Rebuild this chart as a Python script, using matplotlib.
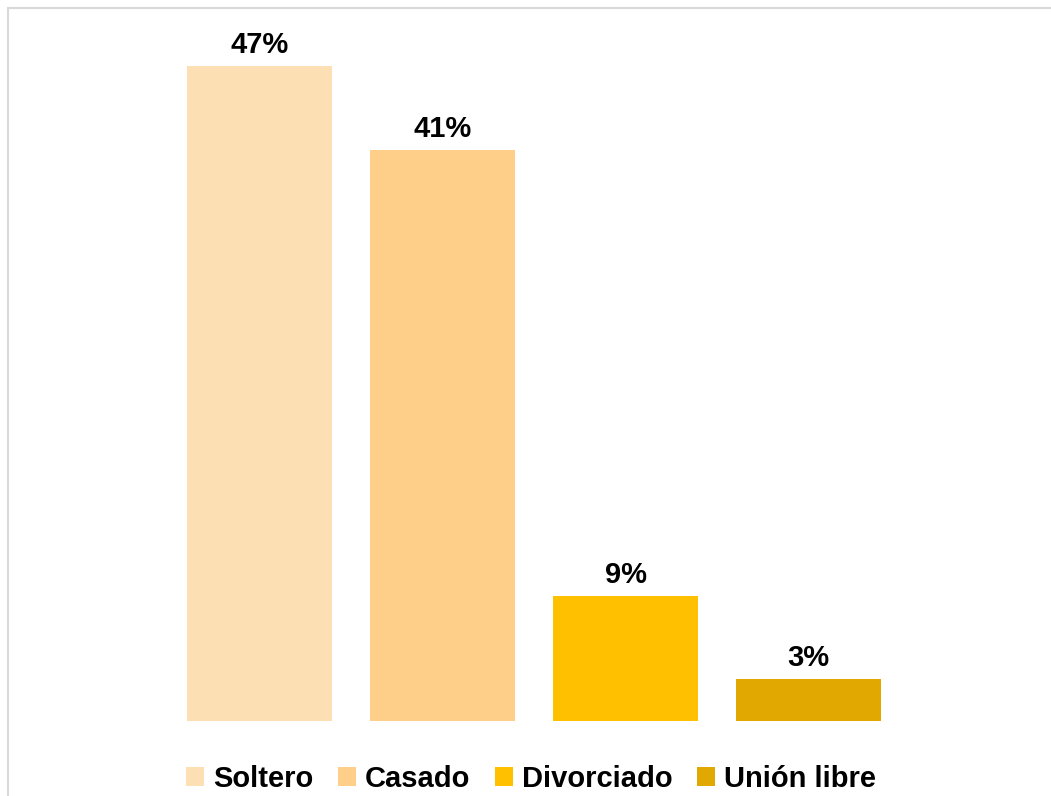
import matplotlib
matplotlib.use("Agg")
import matplotlib.pyplot as plt
from matplotlib.patches import Rectangle, Patch

categories = ["Soltero", "Casado", "Divorciado", "Unión libre"]
values = [47, 41, 9, 3]
labels = ["47%", "41%", "9%", "3%"]
colors = ["#FDDFB4", "#FECF88", "#FFC000", "#E0A800"]

plt.rcParams['font.family'] = ['Liberation Sans', 'DejaVu Sans']

W, H = 1051, 796
fig = plt.figure(figsize=(W / 100, H / 100), dpi=100)

# Outer border (top and left visible)
fig.patches.append(Rectangle((8 / W, -0.1), 1.2, (H - 8) / H + 0.1,
                             transform=fig.transFigure, fill=False,
                             edgecolor="#D9D9D9", linewidth=1.5))

step = 183.0
px_per_unit = 655 / 47
left_px = 259.5 - step
right_px = 808.5 + step
bottom_px = 721
top_px = 8
ax = fig.add_axes([left_px / W, (H - bottom_px) / H,
                   (right_px - left_px) / W, (bottom_px - top_px) / H])
ax.set_xlim(-1, 4)
ax.set_ylim(0, (bottom_px - top_px) / px_per_unit)

x = list(range(len(categories)))
bars = ax.bar(x, values, width=145 / step, color=colors)
for xi, v, lab in zip(x, values, labels):
    ax.annotate(lab, (xi, v), xytext=(0, 7), textcoords="offset pixels",
                ha="center", va="bottom", fontsize=21, fontweight="bold",
                color="black")

ax.set_axis_off()

handles = [Patch(facecolor=c, edgecolor="none") for c in colors]
leg = fig.legend(handles, categories, loc="center",
                 bbox_to_anchor=(531 / W, 1 - 779 / H), ncol=4,
                 frameon=False, prop={"size": 21, "weight": "bold"},
                 handlelength=0.62, handleheight=0.6, handletextpad=0.3,
                 columnspacing=0.85, borderpad=0, borderaxespad=0)

fig.savefig("out.png", dpi=100)
